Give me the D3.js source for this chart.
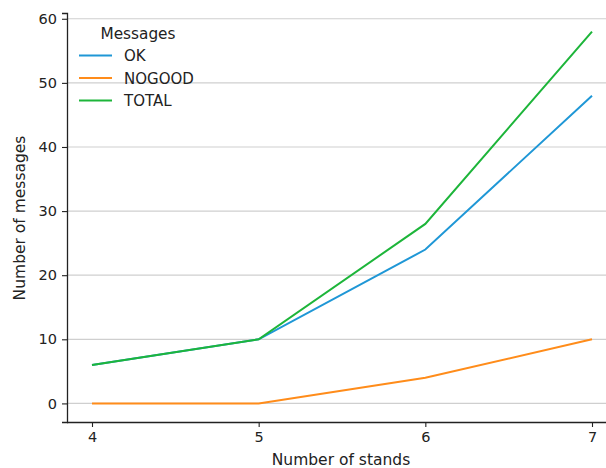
<!DOCTYPE html>
<html><head><meta charset="utf-8">
<script src="https://cdn.jsdelivr.net/npm/d3@7/dist/d3.min.js"></script>
<style>body{margin:0;background:#fff}svg{display:block}text{font-family:"DejaVu Sans",sans-serif;fill:#222}</style>
</head><body><svg id="c" width="606" height="468"></svg>
<script>
const stands = [4, 5, 6, 7];
const okValues = [6, 10, 24, 48];
const nogoodValues = [0, 0, 4, 10];
const totalValues = [6, 10, 28, 58];
const yTicks = [0, 10, 20, 30, 40, 50, 60];
const seriesNames = ["OK", "NOGOOD", "TOTAL"];
const seriesColors = ["#1f97d6", "#ff8c1a", "#1db53a"];
const seriesData = [okValues, nogoodValues, totalValues];

(function () {
const svg = d3.select("#c");
const mLeft = 67, mBottom = 422, mTop = 13;
const x = d3.scaleLinear().domain([3.85, 7.15]).range([mLeft, 617]);
const y = d3.scaleLinear().domain([-2.9, 60.9]).range([mBottom, mTop]);

svg.append("g").selectAll("line").data(yTicks).join("line")
  .attr("x1", mLeft).attr("x2", 606)
  .attr("y1", d => y(d)).attr("y2", d => y(d))
  .attr("stroke", "#cfcfcf").attr("stroke-width", 1.2);

const xAxis = svg.append("g").attr("transform", `translate(0,${mBottom})`)
  .call(d3.axisBottom(x).tickValues(stands).tickFormat(d3.format("d")).tickSizeOuter(0).tickSize(5).tickPadding(5));
const yAxis = svg.append("g").attr("transform", `translate(${mLeft},0)`)
  .call(d3.axisLeft(y).tickValues(yTicks).tickSizeOuter(0).tickSize(5).tickPadding(5));
[xAxis, yAxis].forEach(a => {
  a.select(".domain").attr("stroke", "#222").attr("stroke-width", 1.3);
  a.selectAll(".tick line").attr("stroke", "#222").attr("stroke-width", 1.1);
  a.selectAll(".tick text").attr("font-size", 14.5).attr("fill", "#222").style("font-family", "DejaVu Sans, sans-serif");
});
xAxis.select(".domain").attr("d", `M${mLeft},0.5H606`);

const line = d3.line().x((d, i) => x(stands[i])).y(d => y(d));
seriesData.forEach((vals, k) => {
  svg.append("path").datum(vals).attr("d", line)
    .attr("fill", "none").attr("stroke", seriesColors[k]).attr("stroke-width", 2);
});

svg.append("text").attr("x", 341).attr("y", 465).attr("text-anchor", "middle")
  .attr("font-size", 15.5).text("Number of stands");
svg.append("text").attr("transform", "translate(25,218) rotate(-90)").attr("text-anchor", "middle")
  .attr("font-size", 15.5).text("Number of messages");

const lg = svg.append("g");
lg.append("text").attr("x", 138).attr("y", 39).attr("text-anchor", "middle").attr("font-size", 15.3).text("Messages");
seriesNames.forEach((n, i) => {
  const yy = 55.5 + i * 22.5;
  lg.append("line").attr("x1", 79).attr("x2", 112).attr("y1", yy).attr("y2", yy)
    .attr("stroke", seriesColors[i]).attr("stroke-width", 2);
  lg.append("text").attr("x", 124).attr("y", yy + 5.5).attr("font-size", 15).text(n);
});
})();
</script></body></html>
